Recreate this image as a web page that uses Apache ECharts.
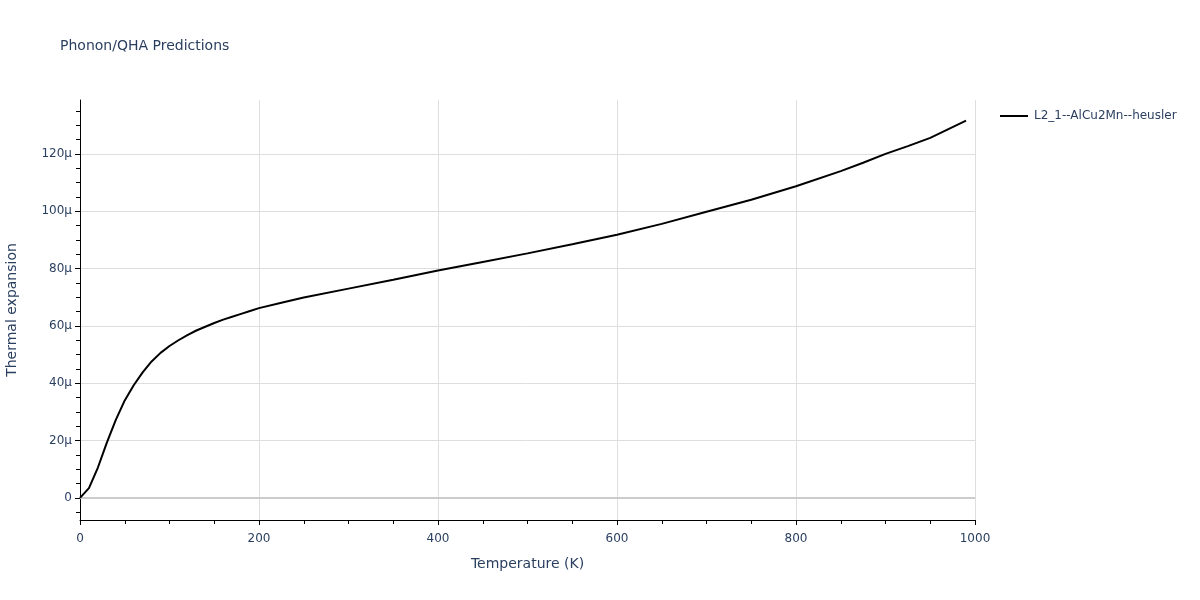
<!DOCTYPE html>
<html>
<head>
<meta charset="utf-8">
<script src="https://cdn.jsdelivr.net/npm/echarts@6/dist/echarts.min.js"></script>
<style>html,body{margin:0;padding:0;background:#fff}#c{width:1200px;height:600px}</style>
</head>
<body>
<div id="c"></div>
<script>
// Temperature (K)
const temperatures = [0,10,20,30,40,50,60,70,80,90,100,110,120,130,140,150,160,170,180,190,200,225,250,300,350,400,450,500,550,600,650,700,750,800,850,875,900,925,950,990];
// Thermal expansion in units of 1e-6 (μ)
const thermalExpansionMicro = [0,3.4,10.6,19.3,27.2,34.0,39.3,43.8,47.6,50.6,53.0,55.0,56.8,58.4,59.7,61.0,62.2,63.2,64.2,65.2,66.2,68.1,69.9,73.0,76.1,79.3,82.3,85.3,88.5,91.8,95.6,99.8,104.0,108.7,114.0,116.9,120.0,122.7,125.6,131.6];
const seriesName = 'L2_1--AlCu2Mn--heusler';
const yMajorTicks = [0,20,40,60,80,100,120];
const yMinorTicks = [-5,5,10,15,25,30,35,45,50,55,65,70,75,85,90,95,105,110,115,125,130,135];

const textColor = '#2a3f5f';
const font = '"DejaVu Sans", Verdana, sans-serif';
const yMin = -7.7, yMax = 138.8;

const chart = echarts.init(document.getElementById('c'), null, {renderer: 'canvas'});
chart.setOption({
  animation: false,
  backgroundColor: '#fff',
  title: {
    text: 'Phonon/QHA Predictions',
    left: 60, top: 39, padding: 0,
    textStyle: {color: textColor, fontSize: 14, fontWeight: 'normal', fontFamily: font}
  },
  legend: {
    left: 1000, top: 110, padding: 0,
    itemWidth: 28, itemHeight: 2, itemGap: 10,
    icon: 'rect',
    textStyle: {color: textColor, fontSize: 12, fontFamily: font, padding: [0, 0, 0, 1]},
    data: [seriesName]
  },
  grid: {left: 80, right: 225, top: 100, bottom: 80, containLabel: false, outerBoundsMode: 'none'},
  xAxis: {
    type: 'value', min: 0, max: 1000, interval: 200,
    name: 'Temperature (K)', nameLocation: 'middle', nameGap: 37,
    nameTextStyle: {color: textColor, fontSize: 14, fontFamily: font},
    axisLine: {show: true, onZero: false, lineStyle: {color: '#000', width: 1}},
    axisTick: {show: true, inside: false, length: 5, lineStyle: {color: '#000'}},
    minorTick: {show: true, splitNumber: 4, length: 4, lineStyle: {color: '#000'}},
    axisLabel: {color: textColor, fontSize: 12, fontFamily: font, margin: 13, formatter: v => String(v)},
    splitLine: {show: true, lineStyle: {color: '#dedede', width: 1}}
  },
  yAxis: [{
    type: 'value', min: yMin, max: yMax,
    name: 'Thermal expansion', nameLocation: 'middle', nameGap: 61,
    nameTextStyle: {color: textColor, fontSize: 14, fontFamily: font},
    axisLine: {show: true, onZero: false, lineStyle: {color: '#000', width: 1}},
    axisTick: {show: true, inside: false, length: 5, customValues: yMajorTicks, lineStyle: {color: '#000'}},
    axisLabel: {
      color: textColor, fontSize: 12, fontFamily: font, margin: 8,
      padding: [4, 0, 0, 0],
      customValues: yMajorTicks,
      formatter: v => v === 0 ? '0' : v + 'μ'
    },
    splitLine: {show: true, lineStyle: {color: '#dedede', width: 1}}
  }, {
    type: 'value', min: yMin, max: yMax, position: 'left', offset: 0,
    axisLine: {show: false},
    axisTick: {show: true, inside: false, length: 4, customValues: yMinorTicks, lineStyle: {color: '#000'}},
    axisLabel: {show: false, customValues: yMinorTicks},
    splitLine: {show: false}
  }],
  series: [{
    name: seriesName,
    type: 'line',
    symbol: 'none',
    smooth: false,
    yAxisIndex: 0,
    lineStyle: {color: '#000', width: 2},
    itemStyle: {color: '#000'},
    data: temperatures.map((t, i) => [t, thermalExpansionMicro[i]]),
    markLine: {
      silent: true, symbol: 'none', label: {show: false},
      lineStyle: {color: '#cccccc', width: 2, type: 'solid'},
      data: [{yAxis: 0}],
      z: 1
    },
    z: 3
  }]
});
</script>
</body>
</html>
